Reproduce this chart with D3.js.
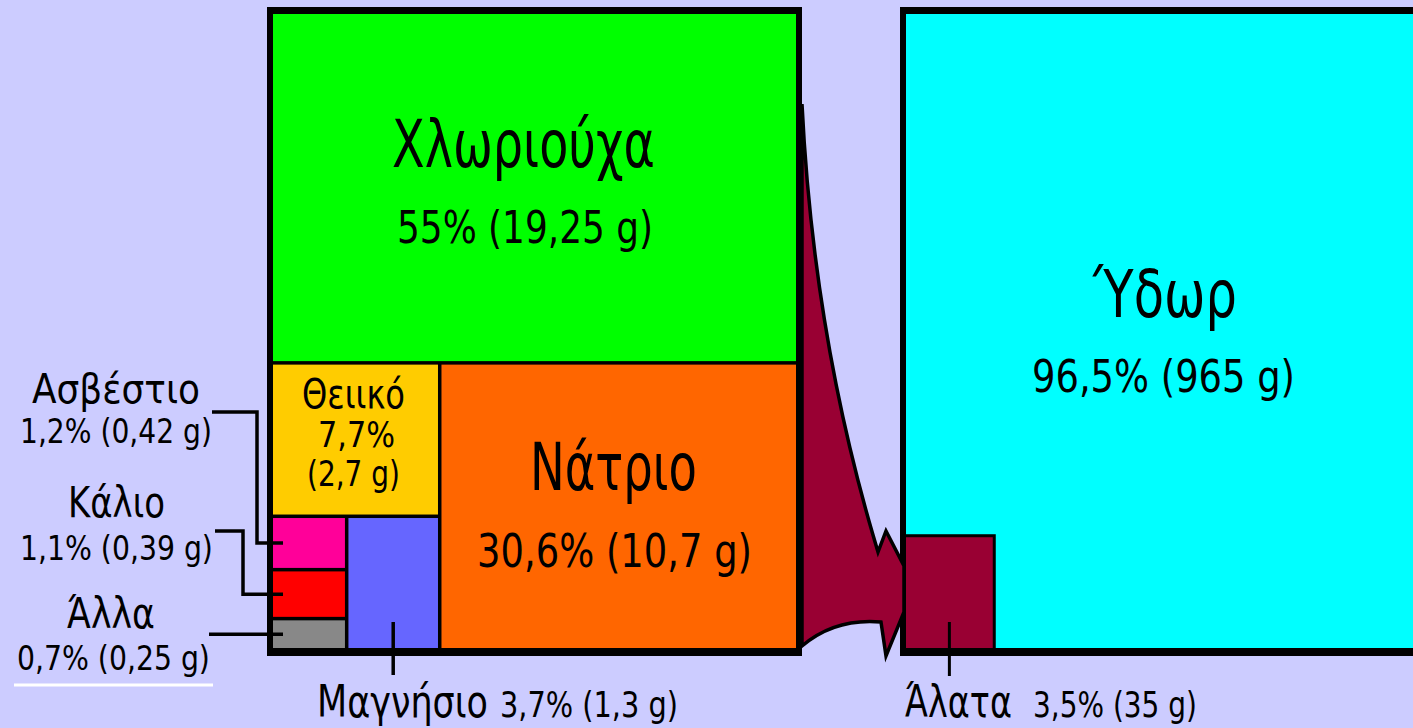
<!DOCTYPE html>
<html><head><meta charset="utf-8">
<script src="https://cdn.jsdelivr.net/npm/d3@7"></script>
<style>html,body{margin:0;padding:0;background:#ccccff;overflow:hidden}</style>
</head><body>
<svg id="chart" width="1413" height="728"></svg>
<script>
// ---- data ----
const saltNames    = ["Χλωριούχα", "Νάτριο", "Θειικό", "Μαγνήσιο", "Ασβέστιο", "Κάλιο", "Άλλα"];
const saltPercents = [55, 30.6, 7.7, 3.7, 1.2, 1.1, 0.7];
const saltGrams    = [19.25, 10.7, 2.7, 1.3, 0.42, 0.39, 0.25];
const seaNames     = ["Ύδωρ", "Άλατα"];
const seaPercents  = [96.5, 3.5];
const seaGrams     = [965, 35];

// ---- styles ----
const saltColors = ["#00ff00", "#ff6600", "#ffcc00", "#6666ff", "#ff0099", "#ff0000", "#888888"];
const waterColor = "#00ffff", saltColor = "#990033";
const FONT = "DejaVu Sans";

const gr = v => String(v).replace(".", ",");
const valueText = (p, g) => `${gr(p)}% (${gr(g)} g)`;

const svg = d3.select("#chart");
svg.append("rect").attr("width", 1413).attr("height", 728).attr("fill", "#ccccff");

// ---- left box: treemap of salts ----
const box = {x0: 267, y0: 7, x1: 802, y1: 656, bl: 6, bt: 7, bb: 8};
const inner = {x: box.x0 + box.bl, y: box.y0 + box.bt,
  w: (box.x1 - box.bl) - (box.x0 + box.bl), h: (box.y1 - box.bb) - (box.y0 + box.bt)};

const tree = {children: [
  {id: 0},
  {children: [
    {children: [
      {id: 2},
      {children: [
        {children: [{id: 4}, {id: 5}, {id: 6}]},
        {id: 3}
      ]}
    ]},
    {id: 1}
  ]}
]};
const root = d3.hierarchy(tree).sum(d => d.id !== undefined ? saltPercents[d.id] : 0);
d3.treemap()
  .size([inner.w, inner.h])
  .paddingInner(3.5)
  .tile((node, x0, y0, x1, y1) =>
    (node.depth % 2 === 0 ? d3.treemapSlice : d3.treemapDice)(node, x0, y0, x1, y1))(root);

svg.append("rect").attr("x", box.x0).attr("y", box.y0)
  .attr("width", box.x1 - box.x0).attr("height", box.y1 - box.y0).attr("fill", "#000");

const leaves = root.leaves();
const cell = {};
leaves.forEach(l => { cell[l.data.id] = {x0: inner.x + l.x0, y0: inner.y + l.y0, x1: inner.x + l.x1, y1: inner.y + l.y1}; });

svg.append("g").selectAll("rect").data(leaves).join("rect")
  .attr("x", d => inner.x + d.x0).attr("y", d => inner.y + d.y0)
  .attr("width", d => d.x1 - d.x0).attr("height", d => d.y1 - d.y0)
  .attr("fill", d => saltColors[d.data.id]);

// ---- right box: water ----
const wbox = {x0: 900, y0: 7, x1: 1436, y1: 656};
svg.append("rect").attr("x", wbox.x0).attr("y", wbox.y0)
  .attr("width", wbox.x1 - wbox.x0).attr("height", wbox.y1 - wbox.y0).attr("fill", "#000");
const winner = {x: wbox.x0 + 6, y: wbox.y0 + 7, x1: wbox.x1 - 6, y1: wbox.y1 - 8};
svg.append("rect").attr("x", winner.x).attr("y", winner.y)
  .attr("width", winner.x1 - winner.x).attr("height", winner.y1 - winner.y).attr("fill", waterColor);

const side = d3.scaleSqrt().domain([0, 100]).range([0, 524]);
const sw = side(seaPercents[1]) * 0.885, sh = side(seaPercents[1]) * 1.13;
const sq = {x0: winner.x, y1: winner.y1, x1: winner.x + sw, y0: winner.y1 - sh};
svg.append("rect").attr("x", sq.x0).attr("y", sq.y0 - 3)
  .attr("width", sw + 3).attr("height", sh + 3).attr("fill", "#000");
svg.append("rect").attr("x", sq.x0).attr("y", sq.y0)
  .attr("width", sw).attr("height", sh).attr("fill", saltColor);

// ---- arrow ----
svg.append("path")
  .attr("d", "M802,104 Q813,330 873,535 L878,552 L886,531 L904,566 L904,612 L886,656 L881,622 Q835,618 802,646 Z")
  .attr("fill", saltColor).attr("stroke", "#000").attr("stroke-width", 3.5).attr("stroke-linejoin", "miter");

// ---- leader lines ----
const lines = svg.append("g").attr("fill", "none").attr("stroke", "#000").attr("stroke-width", 3.5);
const cy = i => (cell[i].y0 + cell[i].y1) / 2;
const cx = i => (cell[i].x0 + cell[i].x1) / 2;
lines.append("path").attr("d", `M212,412 H257 V${cy(4)} H${cell[4].x0 + 10}`);
lines.append("path").attr("d", `M215,531 H243 V${cy(5)} H${cell[5].x0 + 10}`);
lines.append("path").attr("d", `M209,${cy(6)} H${cell[6].x0 + 10}`);
lines.append("path").attr("d", `M${cx(3)},622 V675`);
lines.append("path").attr("d", `M${(sq.x0 + sq.x1) / 2},622 V676`).attr("stroke-width", 3);
svg.append("path").attr("d", "M14,685 H213").attr("stroke", "#fff").attr("stroke-width", 3);

// ---- text (scaled horizontally to the reference widths) ----
function label(x, y, text, size, width, anchor = "middle") {
  const t = svg.append("text").attr("x", 0).attr("y", 0)
    .attr("font-family", FONT).attr("font-size", size).attr("fill", "#000")
    .text(text);
  const nat = t.node().getComputedTextLength();
  const k = width / nat;
  const x0 = anchor === "middle" ? x - width / 2 : x;
  t.attr("transform", `translate(${x0},${y}) scale(${k},1)`);
}
// chloride
label(523.5, 167, saltNames[0], 66, 263);
label(525, 243, valueText(saltPercents[0], saltGrams[0]), 45, 256);
// sodium
label(613.5, 490, saltNames[1], 66, 167);
label(614.5, 567, valueText(saltPercents[1], saltGrams[1]), 46, 275);
// sulfate
label(353.5, 408, saltNames[2], 40, 103);
label(356.5, 447, gr(saltPercents[2]) + "%", 35, 77);
label(353.5, 486, `(${gr(saltGrams[2])} g)`, 35, 93);
// calcium
label(116, 403, saltNames[4], 41, 168);
label(116, 443, valueText(saltPercents[4], saltGrams[4]), 34, 192);
// potassium
label(116.5, 517, saltNames[5], 42, 97);
label(116.5, 560, valueText(saltPercents[5], saltGrams[5]), 34, 193);
// other
label(111, 628, saltNames[6], 42, 88);
label(113.5, 670, valueText(saltPercents[6], saltGrams[6]), 34, 193);
// magnesium
label(317, 717, saltNames[3], 45, 171, "start");
label(500, 717, valueText(saltPercents[3], saltGrams[3]), 36, 178, "start");
// water
label(1165, 317, seaNames[0], 66, 144);
label(1163.5, 392, valueText(seaPercents[0], seaGrams[0]), 44, 263);
// salts
label(905, 717, seaNames[1], 45, 107, "start");
label(1033, 717, valueText(seaPercents[1], seaGrams[1]), 36, 164, "start");
</script>
</body></html>
